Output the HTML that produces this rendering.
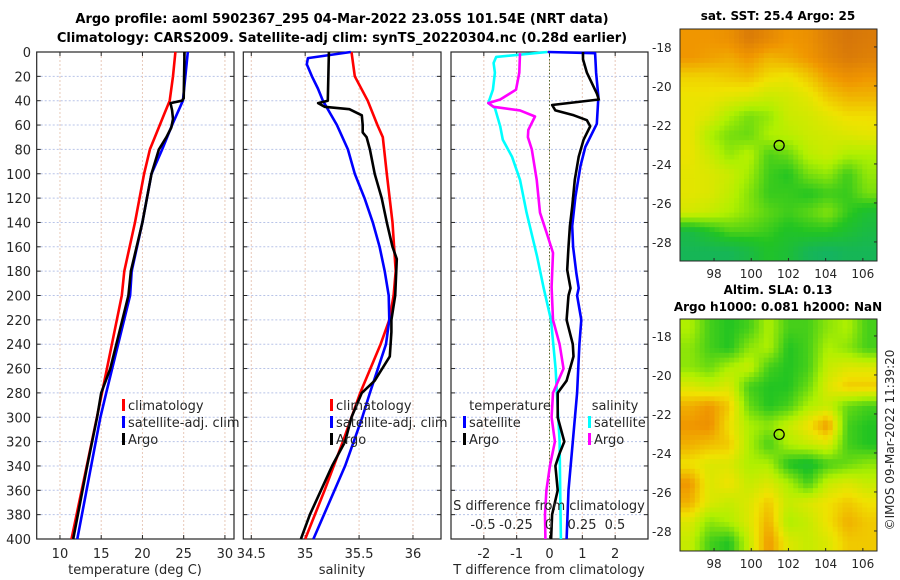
<!DOCTYPE html>
<html><head><meta charset="utf-8"><style>
html,body{margin:0;padding:0;background:#fff;}
svg{display:block;font-family:"DejaVu Sans","Liberation Sans",sans-serif;}
</style></head><body>
<svg id="c" width="900" height="580" viewBox="0 0 900 580" xmlns="http://www.w3.org/2000/svg">
<text x="342" y="23" text-anchor="middle" font-size="13" font-weight="bold">Argo profile: aoml 5902367_295 04-Mar-2022 23.05S 101.54E (NRT data)</text>
<text x="342" y="42" text-anchor="middle" font-size="13" font-weight="bold">Climatology: CARS2009. Satellite-adj clim: synTS_20220304.nc (0.28d earlier)</text>
<text x="778" y="20" text-anchor="middle" font-size="12" font-weight="bold">sat. SST: 25.4 Argo: 25</text>
<text x="778" y="294" text-anchor="middle" font-size="12" font-weight="bold">Altim. SLA: 0.13</text>
<text x="778" y="311" text-anchor="middle" font-size="12" font-weight="bold">Argo h1000: 0.081 h2000: NaN</text>
<text transform="translate(894,440) rotate(-90)" text-anchor="middle" font-size="12" fill="#262626">©IMOS 09-Mar-2022 11:39:20</text>
<g id="plots"></g>
</svg>
<script>
// ---------- data ----------
const tempClimDepth=[0,20,40,50,60,80,100,140,180,200,280,400];
const tempClimVal=[24.0,23.7,23.3,22.7,22.1,20.9,20.2,19.1,17.8,17.5,15.1,11.4];
const tempSatDepth=[0,40,60,80,100,140,180,200,280,300,400];
const tempSatVal=[25.5,24.9,23.6,22.4,21.1,20.0,18.7,18.5,15.6,14.9,12.1];
const tempArgoDepth=[0,38,40,42,48,55,62,70,80,100,140,180,200,260,280,300,340,400];
const tempArgoVal=[25.1,25.0,24.8,23.4,23.6,23.7,23.5,22.9,22.0,21.1,20.0,18.6,18.3,16.1,15.0,14.5,13.3,11.6];

const salClimDepth=[0,20,40,60,70,100,140,180,200,220,240,280,320,360,400];
const salClimVal=[35.43,35.46,35.58,35.67,35.72,35.757,35.81,35.84,35.82,35.78,35.70,35.51,35.35,35.18,35.0];
const salSatDepth=[0,5,10,20,30,40,50,60,80,100,120,140,160,180,200,220,240,280,300,340,400];
const salSatVal=[35.423,35.025,35.015,35.062,35.118,35.164,35.229,35.294,35.396,35.46,35.55,35.627,35.69,35.738,35.775,35.78,35.75,35.6,35.53,35.37,35.076];
const salArgoDepth=[0,40,42,45,47,52,60,66,70,80,100,120,140,160,170,200,220,230,250,270,280,300,320,340,380,400];
const salArgoVal=[35.22,35.21,35.12,35.18,35.41,35.525,35.534,35.534,35.57,35.6,35.645,35.71,35.757,35.81,35.85,35.835,35.80,35.80,35.785,35.645,35.525,35.43,35.37,35.25,35.044,34.96];

const dTSatDepth=[0,1,17,37,59,78,94,119,143,160,182,194,200,220,240,280,320,360,400];
const dTSatVal=[-0.05,1.39,1.42,1.49,1.44,1.09,0.94,0.79,0.69,0.72,0.82,0.89,0.84,0.97,0.91,0.84,0.71,0.58,0.52];
const dTArgoDepth=[0,6,17,34,39,43.5,48,52,56,61,72,86,105,127,143,160,179,194,200,220,240,250,270,280,300,320,330,340,360,380,400];
const dTArgoVal=[1.02,1.02,1.14,1.44,1.5,0.08,0.18,0.74,1.14,1.24,1.04,0.89,0.77,0.69,0.62,0.58,0.54,0.64,0.58,0.52,0.71,0.73,0.52,0.25,0.25,0.45,0.3,0.18,0.25,0.08,0.05];
const dSSatDepth=[0,4,9,17,31,42,46,61,72,86,105,132,168,194,220,260,280,320,360,400];
const dSSatVal=[-0.013,-0.40,-0.42,-0.41,-0.425,-0.46,-0.41,-0.37,-0.35,-0.28,-0.22,-0.17,-0.09,-0.04,0.015,0.05,0.06,0.08,0.085,0.09];
const dSArgoDepth=[1,17,31,39,42,45,48,53,64,70,80,105,132,149,165,193,220,240,260,280,300,320,340,360,380,400];
const dSArgoVal=[-0.22,-0.225,-0.25,-0.37,-0.46,-0.42,-0.22,-0.106,-0.157,-0.16,-0.13,-0.093,-0.068,-0.017,0.03,0.02,0.03,0.08,0.11,0.03,0.02,0.045,0.007,-0.02,-0.03,-0.027];

const depthTicks=[0,20,40,60,80,100,120,140,160,180,200,220,240,260,280,300,320,340,360,380,400];
const tempTicks=[10,15,20,25,30];
const salTicks=[34.5,35,35.5,36];
const dTTicks=[-2,-1,0,1,2];
const dSTicks=[-0.5,-0.25,0,0.25,0.5];
const dSTickLabels=["-0.5","-0.25","0","0.25","0.5"];

const sstGrid=[
[.8,.8,.82,.9,.85,.8,.82,.88,.92,.9],
[.8,.78,.76,.8,.74,.76,.8,.86,.9,.88],
[.68,.68,.7,.72,.66,.64,.7,.78,.82,.8],
[.64,.64,.62,.6,.56,.58,.62,.7,.74,.74],
[.64,.6,.5,.42,.46,.56,.58,.62,.66,.66],
[.64,.5,.42,.4,.5,.52,.56,.58,.6,.62],
[.64,.56,.46,.52,.36,.4,.52,.56,.5,.5],
[.62,.6,.56,.48,.34,.3,.42,.46,.34,.46],
[.62,.6,.54,.44,.33,.33,.3,.34,.33,.42],
[.58,.55,.5,.44,.38,.34,.38,.44,.33,.25],
[.2,.28,.36,.36,.33,.28,.3,.3,.25,.2],
[.15,.15,.15,.2,.28,.24,.15,.12,.15,.15]];
const slaGrid=[
[.5,.35,.3,.35,.5,.35,.35,.45,.5,.35],
[.45,.35,.3,.45,.5,.3,.35,.5,.45,.35],
[.45,.4,.5,.55,.35,.3,.35,.55,.6,.6],
[.6,.55,.6,.35,.3,.3,.4,.6,.7,.7],
[.75,.8,.7,.4,.3,.35,.5,.55,.4,.35],
[.8,.82,.65,.5,.45,.55,.65,.8,.35,.3],
[.75,.72,.7,.5,.35,.5,.55,.6,.35,.3],
[.65,.6,.6,.5,.5,.3,.25,.35,.4,.45],
[.8,.6,.65,.55,.6,.5,.35,.55,.6,.55],
[.75,.6,.55,.6,.7,.55,.6,.65,.7,.65],
[.6,.45,.5,.6,.75,.5,.55,.65,.75,.7],
[.55,.35,.3,.55,.8,.6,.55,.6,.7,.7]];
const lonTicks=[98,100,102,104,106];
const latTicks=[-18,-20,-22,-24,-26,-28];
const argoLon=101.5, argoLat=-23.05;

// ---------- drawing ----------
const NS='http://www.w3.org/2000/svg';
const root=document.getElementById('plots');
function mk(tag,attrs,parent){const e=document.createElementNS(NS,tag);for(const k in attrs)e.setAttribute(k,attrs[k]);(parent||root).appendChild(e);return e;}
const Y0=52,Y1=539;
const yD=d=>Y0+d*(Y1-Y0)/400;
function lin(d0,d1,p0,p1){return v=>p0+(v-d0)*(p1-p0)/(d1-d0);}

function panel(name,x0,x1,xs,ticks,labels,showDepth){
  const g=mk('g',{});
  
  
  depthTicks.forEach(d=>{const l=mk('line',{x1:x0,x2:x1,y1:yD(d),y2:yD(d),stroke:'#b8c4e8','stroke-width':1,'stroke-dasharray':'2,2'},g);
    
    mk('line',{x1:x0,x2:x0+4,y1:yD(d),y2:yD(d),stroke:'#262626'},g);mk('line',{x1:x1-4,x2:x1,y1:yD(d),y2:yD(d),stroke:'#262626'},g);
    if(showDepth){const t=mk('text',{x:31,y:yD(d)+5,'text-anchor':'end','font-size':13,fill:'#262626'},g);t.textContent=d;
      }
  });
  ticks.forEach((v,i)=>{const x=xs(v);
    const l=mk('line',{x1:x,x2:x,y1:Y0,y2:Y1,stroke:'#e8c8b8','stroke-width':1,'stroke-dasharray':'2,2'},g);
    
    mk('line',{x1:x,x2:x,y1:Y1,y2:Y1-4,stroke:'#262626'},g);mk('line',{x1:x,x2:x,y1:Y0,y2:Y0+4,stroke:'#262626'},g);
    const t=mk('text',{x:x,y:558,'text-anchor':'middle','font-size':13,fill:'#262626'},g);t.textContent=labels[i];
    
  });
  const r=mk('rect',{x:x0,y:Y0,width:x1-x0,height:Y1-Y0,fill:'none',stroke:'#262626','stroke-width':1.2},g);
  
  return g;
}
function series(name,xs,depths,vals,color,w){
  const pts=depths.map((d,i)=>xs(vals[i]).toFixed(1)+','+yD(d).toFixed(1)).join(' ');
  const p=mk('polyline',{points:pts,fill:'none',stroke:color,'stroke-width':w||2.6,'stroke-linejoin':'round'});
  
  
}
function legend(name,x,y,color,label){
  const g=mk('g',{});
  
  
  mk('rect',{x:x,y:y-11,width:3,height:12,fill:color},g);
  const t=mk('text',{x:x+6,y:y,'font-size':13,fill:'#262626'},g);t.textContent=label;
}
function label(name,x,y,txt){const t=mk('text',{x:x,y:y,'text-anchor':'middle','font-size':13,fill:'#262626'});t.textContent=txt;
  }

// panel 1
const xT=lin(7.18,31.1,36.7,234);
panel('temperature-panel',36.7,234,xT,tempTicks,tempTicks.map(String),true);
series('temp-climatology-line',xT,tempClimDepth,tempClimVal,'#ff0000');
series('temp-satellite-line',xT,tempSatDepth,tempSatVal,'#0000ff');
series('temp-argo-line',xT,tempArgoDepth,tempArgoVal,'#000000');
legend('legend-climatology',122,410,'#ff0000','climatology');
legend('legend-satellite-adj-clim',122,427,'#0000ff','satellite-adj. clim');
legend('legend-argo',122,444,'#000000','Argo');
label('temp-x-axis-title',135,574,'temperature (deg C)');
// panel 2
const xS=lin(34.426,36.26,243.3,441);
panel('salinity-panel',243.3,441,xS,salTicks,['34.5','35','35.5','36'],false);
series('sal-climatology-line',xS,salClimDepth,salClimVal,'#ff0000');
series('sal-satellite-line',xS,salSatDepth,salSatVal,'#0000ff');
series('sal-argo-line',xS,salArgoDepth,salArgoVal,'#000000');
legend('legend-sal-climatology',330,410,'#ff0000','climatology');
legend('legend-sal-satellite-adj-clim',330,427,'#0000ff','satellite-adj. clim');
legend('legend-sal-argo',330,444,'#000000','Argo');
label('sal-x-axis-title',342,574,'salinity');
// panel 3
const xDT=lin(-3,3,451,648);
const xDS=v=>549+132*v;
panel('difference-panel',451,648,xDT,dTTicks,dTTicks.map(String),false);
const z=mk('line',{x1:xDT(0),x2:xDT(0),y1:Y0,y2:Y1,stroke:'#556b2f','stroke-width':1,'stroke-dasharray':'1.5,2'});

series('ds-satellite-line',xDS,dSSatDepth,dSSatVal,'#00ffff');
series('ds-argo-line',xDS,dSArgoDepth,dSArgoVal,'#ff00ff');
series('dt-satellite-line',xDT,dTSatDepth,dTSatVal,'#0000ff');
series('dt-argo-line',xDT,dTArgoDepth,dTArgoVal,'#000000');
label('legend-temperature-heading',510,410,'temperature');
legend('legend-dt-satellite',463,427,'#0000ff','satellite');
legend('legend-dt-argo',463,444,'#000000','Argo');
label('legend-salinity-heading',615,410,'salinity');
legend('legend-ds-satellite',588,427,'#00ffff','satellite');
legend('legend-ds-argo',588,444,'#ff00ff','Argo');
label('ds-axis-title',549,510,'S difference from climatology');
dSTicks.forEach((v,i)=>{const t=mk('text',{x:xDS(v),y:529,'text-anchor':'middle','font-size':13,fill:'#262626'});t.textContent=dSTickLabels[i];
  });
label('dt-axis-title',549,574,'T difference from climatology');

// maps
const stops=[[0,[10,168,138]],[0.3,[34,196,34]],[0.5,[176,240,0]],[0.65,[240,226,0]],[0.8,[240,150,0]],[1,[196,96,16]]];
function cmap(v){for(let i=1;i<stops.length;i++){if(v<=stops[i][0]){const a=stops[i-1],b=stops[i],t=(v-a[0])/(b[0]-a[0]);
  return 'rgb('+a[1].map((c,k)=>Math.round(c+(b[1][k]-c)*t)).join(',')+')';}}return 'rgb(196,96,16)';}
function sample(grid,fr,fc){const R=grid.length,C=grid[0].length;
  const r=Math.min(Math.max(fr-0.5,0),R-1),c=Math.min(Math.max(fc-0.5,0),C-1);
  const r0=Math.floor(r),c0=Math.floor(c),r1=Math.min(r0+1,R-1),c1=Math.min(c0+1,C-1),tr=r-r0,tc=c-c0;
  return (grid[r0][c0]*(1-tc)+grid[r0][c1]*tc)*(1-tr)+(grid[r1][c0]*(1-tc)+grid[r1][c1]*tc)*tr;}
function map(name,grid,y0,y1,latTop){
  const x0=680,x1=877;const g=mk('g',{});
  
  
  const rows=grid.length,cols=grid[0].length,N=4,cw=(x1-x0)/(cols*N),ch=(y1-y0)/(rows*N);
  for(let r=0;r<rows*N;r++)for(let c=0;c<cols*N;c++){
    const v=sample(grid,(r+0.5)/N,(c+0.5)/N);
    const cell=mk('rect',{x:x0+c*cw,y:y0+r*ch,width:cw+0.4,height:ch+0.4,fill:cmap(v)},g);
    
    
  }
  const xL=lin(96.17,106.76,x0,x1),yL=v=>y0+(latTop-v)*19.5;
  mk('rect',{x:x0,y:y0,width:x1-x0,height:y1-y0,fill:'none',stroke:'#262626'},g);
  lonTicks.forEach(v=>{mk('line',{x1:xL(v),x2:xL(v),y1:y1,y2:y1-3,stroke:'#262626'},g);
    const t=mk('text',{x:xL(v),y:y1+17,'text-anchor':'middle','font-size':12,fill:'#262626'},g);t.textContent=v;
    });
  latTicks.forEach(v=>{mk('line',{x1:x1,x2:x1-3,y1:yL(v),y2:yL(v),stroke:'#262626'},g);
    const t=mk('text',{x:652,y:yL(v)+5,'font-size':12,fill:'#262626'},g);t.textContent=v;
    });
  const c=mk('circle',{cx:xL(argoLon),cy:yL(argoLat),r:5,fill:'none',stroke:'#000','stroke-width':1.3},g);
  
}
map('sst-map',sstGrid,29,261,-17.08);
map('sla-map',slaGrid,319,551,-17.13);
</script>
</body></html>
